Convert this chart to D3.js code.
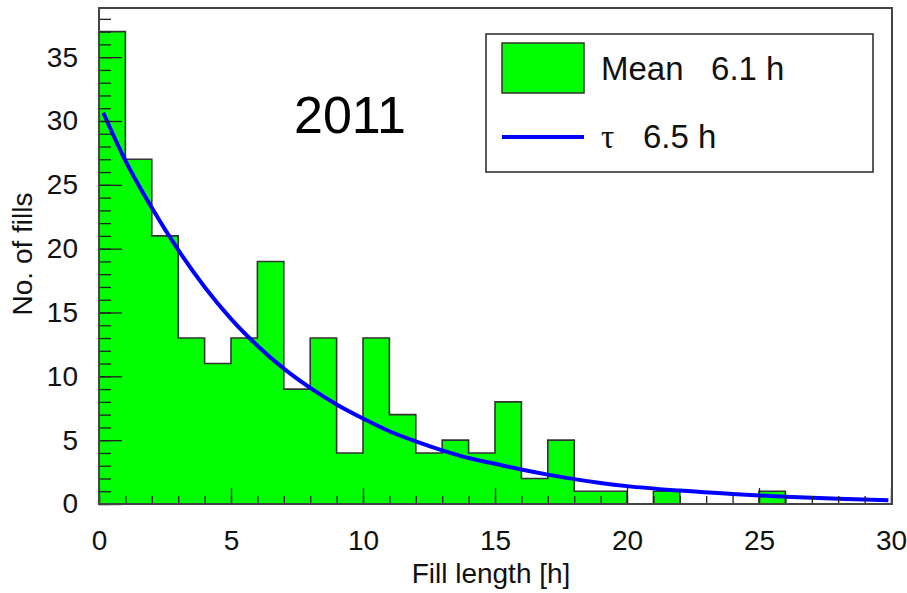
<!DOCTYPE html>
<html>
<head>
<meta charset="utf-8">
<script src="https://cdn.jsdelivr.net/npm/d3@7"></script>
<style>
  body { margin: 0; background: #fff; }
  svg { display: block; font-family: "Liberation Sans", Arial, Helvetica, sans-serif; }
</style>
</head>
<body>
<svg id="chart" width="907" height="593"></svg>
<script>
// ---- data ----
const binEdgesStart = d3.range(0, 30); // bin lower edges, width 1 h
const counts = [37, 27, 21, 13, 11, 13, 19, 9, 13, 4, 13, 7, 4, 5, 4, 8, 2, 5, 1, 1, 0, 1, 0, 0, 0, 1, 0, 0, 0, 0];
const fitX = [0.16, 1, 2, 3, 4, 5, 6, 7, 8, 9, 10, 11, 12, 13, 14, 15, 16, 17, 18, 19, 20, 22, 24, 26, 28, 29.9];
const fitY = [30.65, 26.9, 23.2, 19.9, 17.0, 14.5, 12.4, 10.6, 9.1, 7.8, 6.7, 5.7, 4.9, 4.2, 3.6, 3.15, 2.7, 2.3, 1.95, 1.65, 1.4, 1.05, 0.78, 0.57, 0.42, 0.3];
const xTicks = [0, 5, 10, 15, 20, 25, 30];
const yTicks = [0, 5, 10, 15, 20, 25, 30, 35];
const legendLabels = ["Mean   6.1 h", "6.5 h"];
const yearLabel = "2011";

// ---- layout ----
const svg = d3.select("#chart");
const pL = 99, pR = 891, pT = 8, pB = 504;
const x = d3.scaleLinear().domain([0, 30]).range([pL, pR]);
const y = d3.scaleLinear().domain([0, 38.85]).range([pB, pT]);

// histogram fill + outline (step)
const pts = [[0, 0]];
counts.forEach((c, i) => { pts.push([binEdgesStart[i], c]); pts.push([binEdgesStart[i] + 1, c]); });
pts.push([30, 0]);
const lineGen = d3.line().x(d => x(d[0])).y(d => y(d[1]));
svg.append("path").attr("d", lineGen(pts) + "Z").attr("fill", "#00ff00").attr("stroke", "none");
svg.append("path").attr("d", lineGen(pts)).attr("fill", "none").attr("stroke", "#333").attr("stroke-width", 1.6);

// fit curve
const fit = fitX.map((v, i) => [v, fitY[i]]);
svg.append("path")
  .attr("d", d3.line().x(d => x(d[0])).y(d => y(d[1])).curve(d3.curveMonotoneX)(fit))
  .attr("fill", "none").attr("stroke", "#0000ff").attr("stroke-width", 4);

// axes: minor ticks
svg.append("g").attr("transform", `translate(0,${pB})`)
  .call(d3.axisBottom(x).tickValues(d3.range(0, 31)).tickSize(-8).tickFormat(""))
  .call(g => g.select(".domain").remove())
  .call(g => g.selectAll("line").attr("stroke", "#222").attr("stroke-width", 1.3));
svg.append("g").attr("transform", `translate(${pL},0)`)
  .call(d3.axisLeft(y).tickValues(d3.range(0, 39)).tickSize(-12).tickFormat(""))
  .call(g => g.select(".domain").remove())
  .call(g => g.selectAll("line").attr("stroke", "#222").attr("stroke-width", 1.3));

// major ticks + labels
const xa = svg.append("g").attr("transform", `translate(0,${pB})`)
  .call(d3.axisBottom(x).tickValues(xTicks).tickSize(-16).tickPadding(26).tickFormat(d3.format("d")));
xa.select(".domain").remove();
xa.selectAll("line").attr("stroke", "#222").attr("stroke-width", 1.3);
xa.selectAll("text").attr("font-size", 28).attr("fill", "#111").attr("font-family", "Liberation Sans, Arial, sans-serif");

const ya = svg.append("g").attr("transform", `translate(${pL},0)`)
  .call(d3.axisLeft(y).tickValues(yTicks).tickSize(-23).tickPadding(21).tickFormat(d3.format("d")));
ya.select(".domain").remove();
ya.selectAll("line").attr("stroke", "#222").attr("stroke-width", 1.3);
ya.selectAll("text").attr("font-size", 28).attr("fill", "#111").attr("font-family", "Liberation Sans, Arial, sans-serif");

// frame
svg.append("rect").attr("x", pL).attr("y", pT).attr("width", 892 - pL).attr("height", pB - pT)
  .attr("fill", "none").attr("stroke", "#444").attr("stroke-width", 2);

// axis titles
svg.append("text").attr("x", 491).attr("y", 583).attr("text-anchor", "middle")
  .attr("font-size", 28).attr("fill", "#111").text("Fill length [h]");
svg.append("text").attr("transform", "translate(32,254) rotate(-90)").attr("text-anchor", "middle")
  .attr("font-size", 28).attr("fill", "#111").text("No. of fills");

// year label
svg.append("text").attr("x", 294).attr("y", 133).attr("font-size", 52).attr("fill", "#000").text(yearLabel);

// legend
svg.append("rect").attr("x", 486).attr("y", 34).attr("width", 873 - 486).attr("height", 172 - 34)
  .attr("fill", "#fff").attr("stroke", "#333").attr("stroke-width", 1.6);
svg.append("rect").attr("x", 502).attr("y", 43).attr("width", 82).attr("height", 50)
  .attr("fill", "#00ff00").attr("stroke", "#333").attr("stroke-width", 1.5);
svg.append("text").attr("x", 601).attr("y", 80).attr("font-size", 33).attr("fill", "#111")
  .style("white-space", "pre").text(legendLabels[0]);
svg.append("line").attr("x1", 502).attr("x2", 584).attr("y1", 137).attr("y2", 137)
  .attr("stroke", "#0000ff").attr("stroke-width", 4);
svg.append("text").attr("x", 601).attr("y", 148).attr("font-size", 33).attr("fill", "#111")
  .attr("font-family", "Liberation Serif, DejaVu Serif, serif").text("τ");
svg.append("text").attr("x", 643).attr("y", 148).attr("font-size", 33).attr("fill", "#111").text(legendLabels[1]);
</script>
</body>
</html>
